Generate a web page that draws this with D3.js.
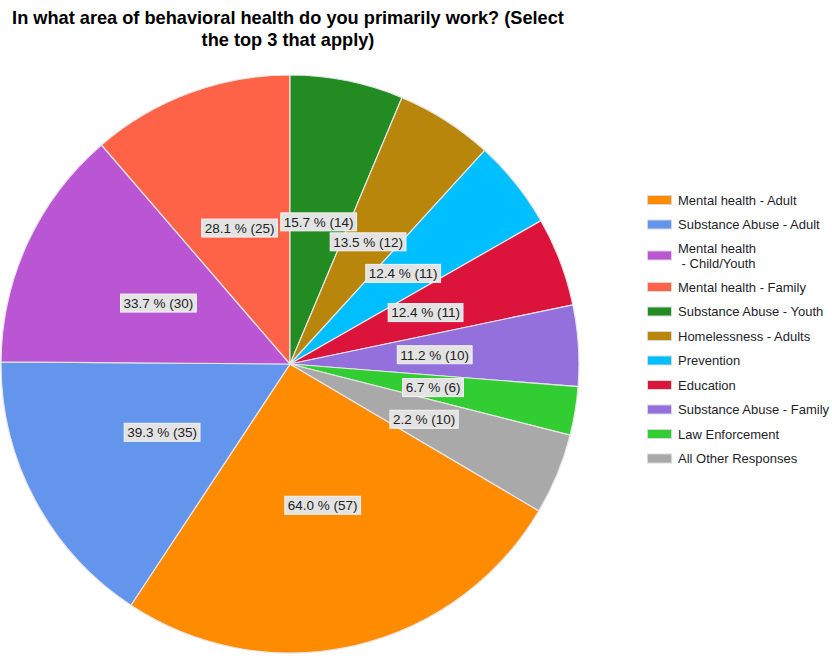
<!DOCTYPE html>
<html>
<head>
<meta charset="utf-8">
<script src="https://cdn.jsdelivr.net/npm/d3@7"></script>
<style>
  html, body { margin: 0; padding: 0; background: #fff; }
  svg { display: block; font-family: "Liberation Sans", Arial, sans-serif; }
</style>
</head>
<body>
<svg id="chart" width="832" height="656"></svg>
<script>
// Survey responses: primary area of behavioral health work (top 3)
const categories = [
  "Mental health - Adult",
  "Substance Abuse - Adult",
  "Mental health - Child/Youth",
  "Mental health - Family",
  "Substance Abuse - Youth",
  "Homelessness - Adults",
  "Prevention",
  "Education",
  "Substance Abuse - Family",
  "Law Enforcement",
  "All Other Responses"
];
const counts = [57, 35, 30, 25, 14, 12, 11, 11, 10, 6, 10];
const percents = ["64.0", "39.3", "33.7", "28.1", "15.7", "13.5", "12.4", "12.4", "11.2", "6.7", "2.2"];
const colors = [
  "#ff8c00", "#6495ed", "#ba55d3", "#ff6347", "#228b22", "#b8860b",
  "#00bfff", "#dc143c", "#9370db", "#32cd32", "#a9a9a9"
];
// Legend text lines (long names wrap onto two lines)
const legendLines = [
  ["Mental health - Adult"],
  ["Substance Abuse - Adult"],
  ["Mental health", " - Child/Youth"],
  ["Mental health - Family"],
  ["Substance Abuse - Youth"],
  ["Homelessness - Adults"],
  ["Prevention"],
  ["Education"],
  ["Substance Abuse - Family"],
  ["Law Enforcement"],
  ["All Other Responses"]
];
const titleLines = [
  "In what area of behavioral health do you primarily work? (Select",
  "the top 3 that apply)"
];

const svg = d3.select("#chart");

// Title
svg.append("g").selectAll("text")
  .data(titleLines)
  .join("text")
  .attr("x", 288)
  .attr("y", (d, i) => 24 + i * 22)
  .attr("text-anchor", "middle")
  .attr("font-size", 18.2)
  .attr("font-weight", "bold")
  .attr("fill", "#000")
  .text(d => d);

// Pie
const cx = 290, cy = 364, R = 289;
const total = d3.sum(counts);
// The first slice is placed so the slices after it wrap round to end at 12 o'clock
const tailSum = d3.sum(counts.slice(4));
const start = tailSum / total * 2 * Math.PI;

const pie = d3.pie().sort(null).value(d => d)
  .startAngle(start).endAngle(start + 2 * Math.PI);
const arcs = pie(counts);
const arc = d3.arc().innerRadius(0).outerRadius(R);
const labelArc = d3.arc().innerRadius(145).outerRadius(145);

const g = svg.append("g").attr("transform", `translate(${cx},${cy})`);
g.selectAll("path")
  .data(arcs)
  .join("path")
  .attr("d", arc)
  .attr("fill", (d, i) => colors[i])
  .attr("stroke", "#e6e6e6")
  .attr("stroke-width", 1.2);

// Value labels on gray boxes
const labels = g.selectAll("g.lbl")
  .data(arcs)
  .join("g")
  .attr("class", "lbl")
  .attr("transform", d => `translate(${labelArc.centroid(d)})`);

labels.append("text")
  .attr("text-anchor", "middle")
  .attr("dy", "0.36em")
  .attr("font-size", 13.5)
  .attr("fill", "#222")
  .text((d, i) => `${percents[i]} % (${counts[i]})`);

labels.each(function () {
  const grp = d3.select(this);
  const bb = grp.select("text").node().getBBox();
  grp.insert("rect", "text")
    .attr("x", bb.x - 3)
    .attr("y", -9)
    .attr("width", bb.width + 6)
    .attr("height", 18)
    .attr("fill", "#e3e3e3")
    .attr("stroke", "#f4f4f4")
    .attr("stroke-width", 1);
});

// Legend
const legendY = [200, 224.5, 255.5, 287, 311.5, 336, 360.5, 385, 409.5, 434, 458.5];
const leg = svg.append("g");
const items = leg.selectAll("g")
  .data(categories)
  .join("g")
  .attr("transform", (d, i) => `translate(647,${legendY[i]})`);

items.append("rect")
  .attr("x", 0.5)
  .attr("y", -4.5)
  .attr("width", 24)
  .attr("height", 9)
  .attr("fill", (d, i) => colors[i])
  .attr("stroke", "#d8d8d8")
  .attr("stroke-width", 1);

items.append("text")
  .attr("x", 31)
  .attr("font-size", 13)
  .attr("fill", "#1e1e2a")
  .each(function (d, i) {
    const lines = legendLines[i];
    const t = d3.select(this);
    lines.forEach((ln, j) => {
      t.append("tspan")
        .attr("x", 31)
        .attr("y", (j - (lines.length - 1) / 2) * 15)
        .attr("dy", "0.35em")
        .text(ln);
    });
  });
</script>
</body>
</html>
